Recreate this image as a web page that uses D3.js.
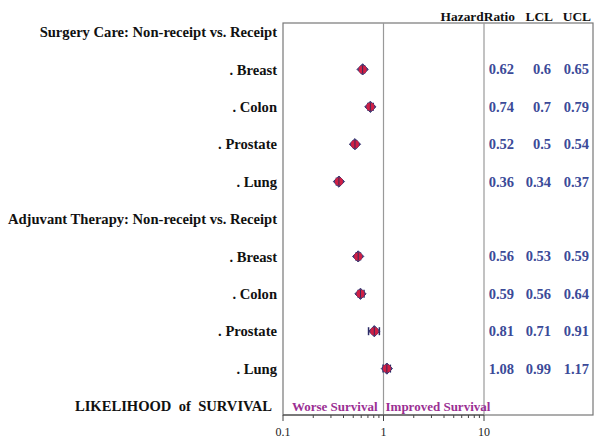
<!DOCTYPE html>
<html><head><meta charset="utf-8">
<script src="https://cdn.jsdelivr.net/npm/d3@7"></script>
<style>
body{margin:0;background:#fff;}
text{font-family:"Liberation Serif","DejaVu Serif",serif;}
</style></head>
<body>
<svg id="c" width="602" height="445"></svg>
<script>
const labels = ["Surgery Care: Non-receipt vs. Receipt", ". Breast", ". Colon", ". Prostate", ". Lung",
  "Adjuvant Therapy: Non-receipt vs. Receipt", ". Breast", ". Colon", ". Prostate", ". Lung", "LIKELIHOOD  of  SURVIVAL"];
const hazard = [null, 0.62, 0.74, 0.52, 0.36, null, 0.56, 0.59, 0.81, 1.08, null];
const lcl    = [null, 0.6, 0.7, 0.5, 0.34, null, 0.53, 0.56, 0.71, 0.99, null];
const ucl    = [null, 0.65, 0.79, 0.54, 0.37, null, 0.59, 0.64, 0.91, 1.17, null];
const hrText  = ["", "0.62", "0.74", "0.52", "0.36", "", "0.56", "0.59", "0.81", "1.08", ""];
const lclText = ["", "0.6", "0.7", "0.5", "0.34", "", "0.53", "0.56", "0.71", "0.99", ""];
const uclText = ["", "0.65", "0.79", "0.54", "0.37", "", "0.59", "0.64", "0.91", "1.17", ""];
const colHeaders = ["HazardRatio", "LCL", "UCL"];
const xTicks = [0.1, 1, 10];

const svg = d3.select("#c");
const x = d3.scaleLog().domain([0.1, 10]).range([283, 484]);
const y = d3.scalePoint().domain(d3.range(labels.length)).range([32, 406]);

const frame = {l:283, t:23, r:593, b:415};

// frame
svg.append("rect").attr("x", frame.l).attr("y", frame.t)
  .attr("width", frame.r - frame.l).attr("height", frame.b - frame.t)
  .attr("fill", "none").attr("stroke", "#777").attr("stroke-width", 1.2);
// reference lines
[1, 10].forEach(v => {
  svg.append("line").attr("x1", x(v)).attr("x2", x(v)).attr("y1", frame.t).attr("y2", frame.b)
    .attr("stroke", "#999").attr("stroke-width", 1.2);
});

// axis
const minor = [];
for (let d = 0.1; d < 10; d *= 10) for (let k = 2; k <= 9; k++) minor.push(+(d*k).toFixed(3));
const axisG = svg.append("g").attr("transform", `translate(0,${frame.b})`);
axisG.append("line").attr("x1", x(0.1)).attr("x2", x(10)).attr("stroke", "#444");
axisG.selectAll(".mn").data(minor).join("line").attr("x1", d => x(d)).attr("x2", d => x(d))
  .attr("y1", 0).attr("y2", 3).attr("stroke", "#444");
axisG.selectAll(".mj").data(xTicks).join("line").attr("x1", d => x(d)).attr("x2", d => x(d))
  .attr("y1", 0).attr("y2", 6).attr("stroke", "#444");
axisG.selectAll(".tl").data(xTicks).join("text").attr("x", d => x(d)).attr("y", 21)
  .attr("text-anchor", "middle").attr("font-size", 12).attr("fill", "#222").text(d => String(d));

// labels
svg.selectAll(".lab").data(labels).join("text")
  .attr("x", (d, i) => i === labels.length - 1 ? 272 : 277)
  .attr("y", (d, i) => y(i)).attr("dy", "0.35em")
  .attr("text-anchor", "end").attr("font-size", 14.6).attr("font-weight", "bold")
  .attr("fill", "#111").style("white-space", "pre").text(d => d);

// column headers and values
const colRight = [514, 551, 589];
const headRight = [515, 553, 591];
colHeaders.forEach((h, j) => {
  svg.append("text").attr("x", headRight[j]).attr("y", 16).attr("dy", "0.35em")
    .attr("text-anchor", "end").attr("font-size", 13.4).attr("font-weight", "bold").attr("fill", "#111").text(h);
});
[hrText, lclText, uclText].forEach((col, j) => {
  svg.selectAll(".v" + j).data(col).join("text")
    .attr("x", colRight[j]).attr("y", (d, i) => y(i)).attr("dy", "0.35em")
    .attr("text-anchor", "end").attr("font-size", 14.5).attr("font-weight", "bold")
    .attr("fill", "#3b4a98").text(d => d);
});

// survival annotations
const ly = y(labels.length - 1);
svg.append("text").attr("x", x(1) - 6).attr("y", ly).attr("dy", "0.35em").attr("text-anchor", "end")
  .attr("font-size", 13).attr("font-weight", "bold").attr("fill", "#9b2f93").text("Worse Survival");
svg.append("text").attr("x", x(1) + 2).attr("y", ly).attr("dy", "0.35em").attr("text-anchor", "start")
  .attr("font-size", 13).attr("font-weight", "bold").attr("fill", "#9b2f93").text("Improved Survival");

// markers
const pts = hazard.map((h, i) => ({h, l: lcl[i], u: ucl[i], i})).filter(d => d.h != null);
const g = svg.append("g");
g.selectAll(".eb").data(pts).join("line")
  .attr("x1", d => x(d.l)).attr("x2", d => x(d.u)).attr("y1", d => y(d.i)).attr("y2", d => y(d.i))
  .attr("stroke", "#2b2b66").attr("stroke-width", 1.5);
g.selectAll(".cl").data(pts).join("line")
  .attr("x1", d => x(d.l)).attr("x2", d => x(d.l)).attr("y1", d => y(d.i) - 4).attr("y2", d => y(d.i) + 4)
  .attr("stroke", "#2b2b66").attr("stroke-width", 1.5);
g.selectAll(".cu").data(pts).join("line")
  .attr("x1", d => x(d.u)).attr("x2", d => x(d.u)).attr("y1", d => y(d.i) - 4).attr("y2", d => y(d.i) + 4)
  .attr("stroke", "#2b2b66").attr("stroke-width", 1.5);
g.selectAll(".dm").data(pts).join("path")
  .attr("d", d3.symbol().type(d3.symbolDiamond2).size(80))
  .attr("transform", d => `translate(${x(d.h)},${y(d.i)})`)
  .attr("fill", "#4a3a7a").attr("stroke", "#34346e").attr("stroke-width", 1);
g.selectAll(".ci").data(pts).join("circle")
  .attr("cx", d => x(d.h)).attr("cy", d => y(d.i)).attr("r", 4)
  .attr("fill", "#cf1f45");
g.selectAll(".cr").data(pts).join("line")
  .attr("x1", d => x(d.h)).attr("x2", d => x(d.h)).attr("y1", d => y(d.i) - 4).attr("y2", d => y(d.i) + 4)
  .attr("stroke", "#3a2a5a").attr("stroke-width", 1);
</script>
</body></html>
